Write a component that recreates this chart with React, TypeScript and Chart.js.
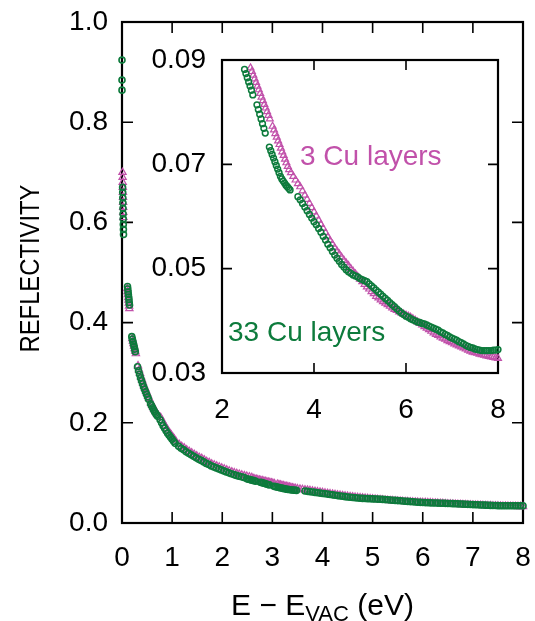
import { useEffect, useRef } from "react";
import { Chart, registerables } from "chart.js";

Chart.register(...registerables);

// ---------- data ----------
const mainXTicks = [0, 1, 2, 3, 4, 5, 6, 7, 8];
const mainYTicks = [0, 0.2, 0.4, 0.6, 0.8, 1.0];
const insetXTicks = [2, 4, 6, 8];
const insetYTicks = [0.03, 0.05, 0.07, 0.09];

const cu3Label = "3 Cu layers";
const cu33Label = "33 Cu layers";
const yTitle = "REFLECTIVITY";
const xTitleMain = "E \u2212 E";
const xTitleSub = "VAC";
const xTitleTail = " (eV)";

// 33 Cu layers (green circles): [E - Evac (eV), reflectivity]
const cu33Points: [number, number][] = [
  [0, 0.924], [0, 0.884], [0, 0.864],
  [0.012, 0.670], [0.014, 0.660], [0.016, 0.649], [0.018, 0.639], [0.020, 0.628],
  [0.022, 0.617], [0.024, 0.607], [0.026, 0.596], [0.028, 0.586], [0.030, 0.576],
  [0.110, 0.472], [0.116, 0.467], [0.122, 0.461], [0.127, 0.456], [0.133, 0.451],
  [0.139, 0.446], [0.144, 0.440], [0.150, 0.435],
  [0.195, 0.372], [0.207, 0.367], [0.218, 0.362], [0.230, 0.357], [0.242, 0.352],
  [0.253, 0.347], [0.265, 0.342],
  [0.31, 0.312], [0.33, 0.304], [0.35, 0.297], [0.37, 0.290], [0.39, 0.284], [0.41, 0.278],
  [0.43, 0.272], [0.45, 0.267], [0.47, 0.262], [0.49, 0.257], [0.51, 0.252], [0.53, 0.247],
  [0.57, 0.238], [0.59, 0.234], [0.61, 0.230], [0.63, 0.226], [0.65, 0.222], [0.67, 0.219],
  [0.69, 0.216], [0.71, 0.213],
  [0.76, 0.206], [0.79, 0.200], [0.82, 0.194], [0.85, 0.189], [0.88, 0.184], [0.91, 0.179],
  [0.94, 0.175], [0.97, 0.171], [1.00, 0.167], [1.03, 0.163], [1.06, 0.159],
  [1.13, 0.153], [1.18, 0.149], [1.23, 0.146], [1.28, 0.142], [1.33, 0.139], [1.38, 0.136],
  [1.43, 0.133], [1.48, 0.130], [1.53, 0.127], [1.58, 0.125], [1.63, 0.122], [1.68, 0.119],
  [1.73, 0.117], [1.78, 0.114], [1.83, 0.112], [1.88, 0.110], [1.93, 0.108], [1.98, 0.106],
  [2.03, 0.1040], [2.08, 0.1020], [2.13, 0.1001], [2.18, 0.0983], [2.23, 0.0966],
  [2.28, 0.0950], [2.33, 0.0935], [2.38, 0.0922], [2.43, 0.0910],
  [2.49, 0.0882], [2.52, 0.0874], [2.55, 0.0866], [2.58, 0.0858], [2.61, 0.0850],
  [2.64, 0.0842], [2.67, 0.0833],
  [2.76, 0.0814], [2.79, 0.0805], [2.82, 0.0796], [2.85, 0.0787], [2.88, 0.0778],
  [2.91, 0.0769], [2.94, 0.0760],
  [3.03, 0.0733], [3.06, 0.0726], [3.09, 0.0719], [3.12, 0.0712], [3.15, 0.0705],
  [3.18, 0.0698], [3.21, 0.0691], [3.24, 0.0684], [3.27, 0.0677], [3.30, 0.0672],
  [3.33, 0.0668], [3.36, 0.0664], [3.39, 0.0660], [3.42, 0.0657], [3.45, 0.0654], [3.48, 0.0651],
  [3.65, 0.0638], [3.70, 0.0632], [3.75, 0.0625], [3.80, 0.0618], [3.85, 0.0611],
  [3.90, 0.0604], [3.95, 0.0597], [4.00, 0.0590], [4.05, 0.0584], [4.10, 0.0577],
  [4.15, 0.0570], [4.20, 0.0562], [4.25, 0.0555], [4.30, 0.0547], [4.35, 0.0540],
  [4.40, 0.0533], [4.45, 0.0526], [4.50, 0.0520], [4.55, 0.0514], [4.60, 0.0508],
  [4.65, 0.0503], [4.70, 0.0498], [4.75, 0.0494], [4.80, 0.0491], [4.85, 0.0488],
  [4.90, 0.0486], [4.95, 0.0484], [5.00, 0.0481], [5.05, 0.0479], [5.10, 0.0477],
  [5.15, 0.0475], [5.20, 0.0471], [5.25, 0.0467], [5.30, 0.0463], [5.35, 0.0459],
  [5.40, 0.0455], [5.45, 0.0451], [5.50, 0.0447], [5.55, 0.0443], [5.60, 0.0439],
  [5.65, 0.0435], [5.70, 0.0431], [5.75, 0.0427], [5.80, 0.0423], [5.85, 0.0419],
  [5.90, 0.0415], [5.95, 0.0412], [6.00, 0.0409], [6.05, 0.0407], [6.10, 0.0404],
  [6.15, 0.0402], [6.20, 0.0400], [6.25, 0.0398], [6.30, 0.0397], [6.35, 0.0395],
  [6.40, 0.0394], [6.45, 0.0392], [6.50, 0.0390], [6.55, 0.0388], [6.60, 0.0386],
  [6.65, 0.0384], [6.70, 0.0382], [6.75, 0.0379], [6.80, 0.0377], [6.85, 0.0374],
  [6.90, 0.0372], [6.95, 0.0369], [7.00, 0.0367], [7.05, 0.0365], [7.10, 0.0363],
  [7.15, 0.0360], [7.20, 0.0358], [7.25, 0.0356], [7.30, 0.0353], [7.35, 0.0351],
  [7.40, 0.0349], [7.45, 0.0348], [7.50, 0.0346], [7.55, 0.0345], [7.60, 0.0344],
  [7.65, 0.0343], [7.70, 0.0343], [7.75, 0.0343], [7.80, 0.0343], [7.85, 0.0343],
  [7.90, 0.0344], [7.95, 0.0344], [8.00, 0.0345],
];

// 3 Cu layers (magenta triangles): [E - Evac (eV), reflectivity]
const cu3Points: [number, number][] = [
  [0.010, 0.700], [0.012, 0.690], [0.014, 0.680], [0.016, 0.670], [0.018, 0.660],
  [0.020, 0.650], [0.022, 0.640], [0.024, 0.630], [0.026, 0.620], [0.028, 0.610],
  [0.105, 0.468], [0.111, 0.462], [0.117, 0.456], [0.123, 0.450], [0.129, 0.445],
  [0.135, 0.439], [0.141, 0.433], [0.147, 0.428],
  [0.205, 0.368], [0.217, 0.363], [0.229, 0.358], [0.241, 0.353], [0.253, 0.348],
  [0.265, 0.343], [0.277, 0.338],
  [0.32, 0.314], [0.34, 0.306], [0.36, 0.299], [0.38, 0.292], [0.40, 0.286], [0.42, 0.280],
  [0.44, 0.274], [0.46, 0.269], [0.48, 0.264], [0.50, 0.259], [0.52, 0.254], [0.54, 0.249],
  [0.58, 0.240], [0.60, 0.236], [0.62, 0.232], [0.64, 0.228], [0.66, 0.225], [0.68, 0.221],
  [0.70, 0.218], [0.72, 0.215],
  [0.77, 0.211], [0.80, 0.205], [0.83, 0.199], [0.86, 0.194], [0.89, 0.189], [0.92, 0.184],
  [0.95, 0.180], [0.98, 0.176], [1.01, 0.172], [1.04, 0.168], [1.07, 0.164],
  [1.14, 0.157], [1.19, 0.153], [1.24, 0.150], [1.29, 0.146], [1.34, 0.143], [1.39, 0.140],
  [1.44, 0.137], [1.49, 0.134], [1.54, 0.131], [1.59, 0.129], [1.64, 0.126], [1.69, 0.123],
  [1.74, 0.121], [1.79, 0.118], [1.84, 0.116], [1.89, 0.114], [1.94, 0.112], [1.99, 0.110],
  [2.04, 0.108], [2.09, 0.106], [2.14, 0.104], [2.19, 0.1022], [2.24, 0.1005], [2.29, 0.0989],
  [2.34, 0.0974], [2.39, 0.0960], [2.44, 0.0947], [2.49, 0.0934], [2.54, 0.0921], [2.59, 0.0909],
  [2.62, 0.0885], [2.65, 0.0878], [2.68, 0.0871], [2.71, 0.0864], [2.74, 0.0857],
  [2.77, 0.0850], [2.80, 0.0843], [2.83, 0.0836], [2.86, 0.0829], [2.89, 0.0822],
  [2.92, 0.0815], [2.95, 0.0808], [2.98, 0.0801], [3.01, 0.0794], [3.04, 0.0787],
  [3.10, 0.0773], [3.13, 0.0766], [3.16, 0.0759], [3.19, 0.0752], [3.22, 0.0745],
  [3.25, 0.0738], [3.28, 0.0731], [3.31, 0.0724], [3.34, 0.0717], [3.37, 0.0710],
  [3.40, 0.0703], [3.43, 0.0696], [3.46, 0.0690],
  [3.50, 0.0684], [3.55, 0.0677], [3.60, 0.0670], [3.65, 0.0663], [3.70, 0.0657],
  [3.75, 0.0649], [3.80, 0.0641], [3.85, 0.0633], [3.90, 0.0625], [3.95, 0.0617],
  [4.00, 0.0609], [4.05, 0.0601], [4.10, 0.0593], [4.15, 0.0585], [4.20, 0.0577],
  [4.25, 0.0569], [4.30, 0.0561], [4.35, 0.0554], [4.40, 0.0547], [4.45, 0.0540],
  [4.50, 0.0534], [4.55, 0.0528], [4.60, 0.0522], [4.65, 0.0516], [4.70, 0.0511],
  [4.75, 0.0506], [4.80, 0.0500], [4.85, 0.0495], [4.90, 0.0490], [4.95, 0.0485],
  [5.00, 0.0480], [5.05, 0.0475], [5.10, 0.0470], [5.15, 0.0465], [5.20, 0.0461],
  [5.25, 0.0456], [5.30, 0.0452], [5.35, 0.0447], [5.40, 0.0444], [5.45, 0.0440],
  [5.50, 0.0437], [5.55, 0.0434], [5.60, 0.0431], [5.65, 0.0428], [5.70, 0.0425],
  [5.75, 0.0422], [5.80, 0.0420], [5.85, 0.0417], [5.90, 0.0415], [5.95, 0.0413],
  [6.00, 0.0411], [6.05, 0.0409], [6.10, 0.0407], [6.15, 0.0404], [6.20, 0.0401],
  [6.25, 0.0398], [6.30, 0.0395], [6.35, 0.0392], [6.40, 0.0389], [6.45, 0.0386],
  [6.50, 0.0383], [6.55, 0.0380], [6.60, 0.0377], [6.65, 0.0374], [6.70, 0.0372],
  [6.75, 0.0369], [6.80, 0.0367], [6.85, 0.0365], [6.90, 0.0362], [6.95, 0.0360],
  [7.00, 0.0358], [7.05, 0.0356], [7.10, 0.0354], [7.15, 0.0352], [7.20, 0.0350],
  [7.25, 0.0348], [7.30, 0.0346], [7.35, 0.0344], [7.40, 0.0342], [7.45, 0.0340],
  [7.50, 0.0339], [7.55, 0.0338], [7.60, 0.0336], [7.65, 0.0335], [7.70, 0.0334],
  [7.75, 0.0333], [7.80, 0.0332], [7.85, 0.0331], [7.90, 0.0330], [7.95, 0.0329],
  [8.00, 0.0328],
];

// ---------- styling ----------
const FONT = "'Liberation Sans', Arimo, Arial, sans-serif";
const GREEN = "#0d7b3c";
const MAGENTA = "#c151aa";

const toXY = (pts: [number, number][]) => pts.map(([x, y]) => ({ x, y }));

function makeDatasets(cr: number, cw: number, tr: number, tw: number, clip: any): any[] {
  return [
    {
      label: cu33Label,
      data: toXY(cu33Points),
      showLine: false,
      clip,
      pointStyle: "circle",
      pointRadius: cr,
      pointBorderWidth: cw,
      pointBorderColor: GREEN,
      pointBackgroundColor: "rgba(0,0,0,0)",
      borderColor: GREEN,
      backgroundColor: "rgba(0,0,0,0)",
    },
    {
      label: cu3Label,
      data: toXY(cu3Points),
      showLine: false,
      clip,
      pointStyle: "triangle",
      pointRadius: tr,
      pointBorderWidth: tw,
      pointBorderColor: MAGENTA,
      pointBackgroundColor: "rgba(0,0,0,0)",
      borderColor: MAGENTA,
      backgroundColor: "rgba(0,0,0,0)",
    },
  ];
}

function framePlugin(xInner: number[], yInner: number[], len: number) {
  return {
    id: "frameTicks",
    beforeDatasetsDraw(chart: any) {
      const { ctx, chartArea: a } = chart;
      const xs = chart.scales.x;
      const ys = chart.scales.y;
      ctx.save();
      ctx.strokeStyle = "#000";
      ctx.lineWidth = 1.6;
      ctx.beginPath();
      for (const v of xInner) {
        const px = xs.getPixelForValue(v);
        ctx.moveTo(px, a.bottom);
        ctx.lineTo(px, a.bottom - len);
        ctx.moveTo(px, a.top);
        ctx.lineTo(px, a.top + len);
      }
      for (const v of yInner) {
        const py = ys.getPixelForValue(v);
        ctx.moveTo(a.left, py);
        ctx.lineTo(a.left + len, py);
        ctx.moveTo(a.right, py);
        ctx.lineTo(a.right - len, py);
      }
      ctx.stroke();
      ctx.lineWidth = 2.2;
      ctx.strokeRect(a.left, a.top, a.right - a.left, a.bottom - a.top);
      ctx.restore();
    },
  };
}

const mainTitles = {
  id: "mainTitles",
  afterDraw(chart: any) {
    const { ctx, chartArea: a } = chart;
    ctx.save();
    ctx.fillStyle = "#000";
    ctx.translate(31, (a.top + a.bottom) / 2 - 4);
    ctx.rotate(-Math.PI / 2);
    ctx.scale(0.85, 1);
    ctx.font = `28px ${FONT}`;
    ctx.textAlign = "center";
    ctx.textBaseline = "middle";
    ctx.fillText(yTitle, 0, 0);
    ctx.restore();

    ctx.save();
    ctx.fillStyle = "#000";
    ctx.textAlign = "left";
    ctx.textBaseline = "alphabetic";
    const big = `30px ${FONT}`;
    const small = `22px ${FONT}`;
    ctx.font = big;
    const w1 = ctx.measureText(xTitleMain).width;
    const w3 = ctx.measureText(xTitleTail).width;
    ctx.font = small;
    const w2 = ctx.measureText(xTitleSub).width;
    const total = w1 + w2 + w3;
    let x = (a.left + a.right) / 2 - total / 2;
    const base = 615;
    ctx.font = big;
    ctx.fillText(xTitleMain, x, base);
    x += w1;
    ctx.font = small;
    ctx.fillText(xTitleSub, x, base + 6);
    x += w2;
    ctx.font = big;
    ctx.fillText(xTitleTail, x, base);
    ctx.restore();
  },
};

const insetLabels = {
  id: "insetLabels",
  afterDraw(chart: any) {
    const { ctx, chartArea: a } = chart;
    ctx.save();
    ctx.font = `28px ${FONT}`;
    ctx.textAlign = "left";
    ctx.textBaseline = "middle";
    ctx.fillStyle = MAGENTA;
    ctx.fillText(cu3Label, a.left + 78, a.top + 97);
    ctx.fillStyle = GREEN;
    ctx.fillText(cu33Label, a.left + 6, a.top + 273);
    ctx.restore();
  },
};

function axis(
  min: number,
  max: number,
  ticks: number[],
  fmt: (v: number) => string,
  padding: number,
  size: { width?: number; height?: number }
): any {
  return {
    type: "linear",
    min,
    max,
    grid: { display: false, drawTicks: false },
    border: { display: false },
    afterBuildTicks: (s: any) => {
      s.ticks = ticks.map((v) => ({ value: v }));
    },
    afterFit: (s: any) => {
      if (size.width !== undefined) s.width = size.width;
      if (size.height !== undefined) s.height = size.height;
      s.paddingLeft = 0;
      s.paddingRight = 0;
      s.paddingTop = 0;
      s.paddingBottom = 0;
    },
    ticks: {
      font: { family: FONT, size: 28 },
      color: "#000",
      padding,
      maxRotation: 0,
      autoSkip: false,
      callback: (v: any) => fmt(Number(v)),
    },
  };
}

export default function App() {
  const mainRef = useRef<HTMLCanvasElement>(null);
  const insetRef = useRef<HTMLCanvasElement>(null);

  useEffect(() => {
    const main = new Chart(mainRef.current as HTMLCanvasElement, {
      type: "scatter",
      data: { datasets: makeDatasets(3.0, 1.6, 4.2, 1.2, false) },
      options: {
        animation: false,
        responsive: false,
        devicePixelRatio: 1,
        events: [],
        layout: { padding: { left: 0, top: 22, right: 12, bottom: 0 } },
        plugins: { legend: { display: false }, tooltip: { enabled: false } },
        scales: {
          x: axis(0, 8, mainXTicks, (v) => String(v), 18, { height: 98 }),
          y: axis(0, 1, mainYTicks, (v) => v.toFixed(1), 14, { width: 122 }),
        },
      } as any,
      plugins: [framePlugin(mainXTicks.slice(1, -1), mainYTicks.slice(1, -1), 11), mainTitles],
    });

    const inset = new Chart(insetRef.current as HTMLCanvasElement, {
      type: "scatter",
      data: {
        datasets: makeDatasets(2.9, 1.5, 4.0, 1.2, { left: 0, top: 0, right: 5, bottom: 0 }),
      },
      options: {
        animation: false,
        responsive: false,
        devicePixelRatio: 1,
        events: [],
        layout: { padding: { left: 0, top: 30, right: 22, bottom: 0 } },
        plugins: { legend: { display: false }, tooltip: { enabled: false } },
        scales: {
          x: axis(2, 8, insetXTicks, (v) => String(v), 20, { height: 67 }),
          y: axis(0.03, 0.09, insetYTicks, (v) => v.toFixed(2), 16, { width: 82 }),
        },
      } as any,
      plugins: [framePlugin(insetXTicks.slice(1, -1), insetYTicks.slice(1, -1), 10), insetLabels],
    });

    return () => {
      main.destroy();
      inset.destroy();
    };
  }, []);

  return (
    <div style={{ position: "absolute", left: 0, top: 0, width: 535, height: 621, background: "#fff" }}>
      <canvas
        ref={mainRef}
        width={535}
        height={621}
        style={{ position: "absolute", left: 0, top: 0, width: 535, height: 621 }}
      />
      <canvas
        ref={insetRef}
        width={380}
        height={410}
        style={{ position: "absolute", left: 140, top: 30, width: 380, height: 410 }}
      />
    </div>
  );
}
